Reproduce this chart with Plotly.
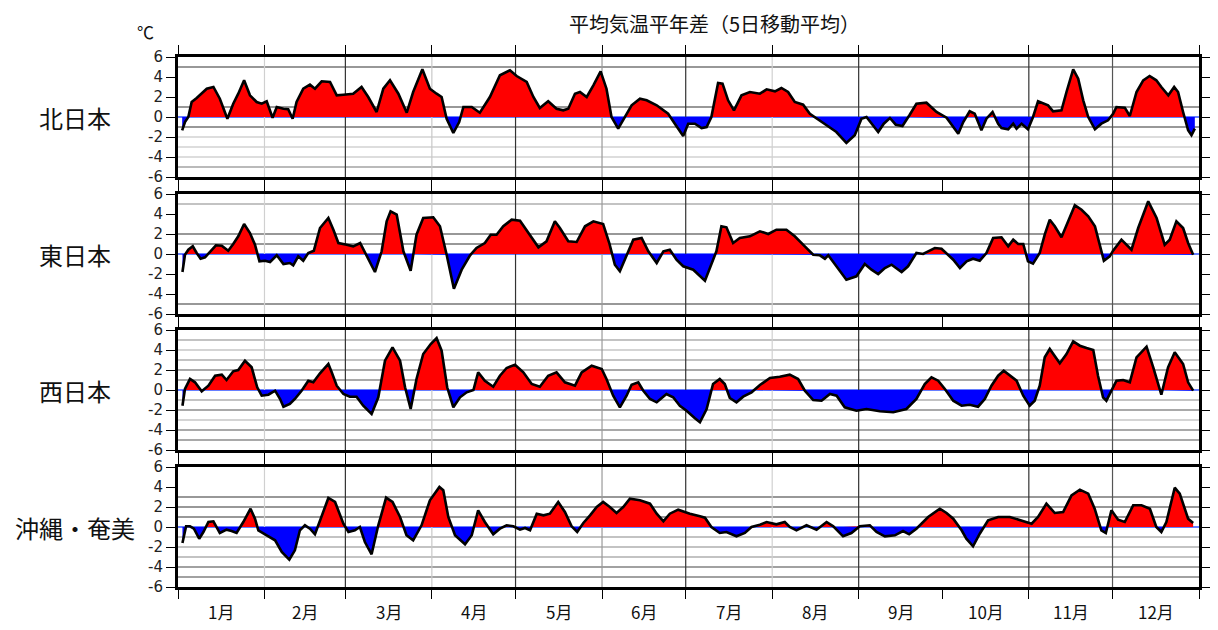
import plotly.graph_objects as go

# ---------------- data ----------------
TITLE = "平均気温平年差（5日移動平均）"
UNIT = "℃"
REGIONS = ["北日本", "東日本", "西日本", "沖縄・奄美"]
MONTH_LABELS = ["1月", "2月", "3月", "4月", "5月", "6月",
                "7月", "8月", "9月", "10月", "11月", "12月"]
MONTH_START = [0, 31, 60, 91, 121, 152, 182, 213, 244, 274, 305, 335, 366]
Y_TICKS = [-6, -4, -2, 0, 2, 4, 6]

# 北日本
north_days = [1.5, 2.5, 3.7, 4.9, 6.7, 8.5, 10.3, 12.7, 15, 17.7,
              19.8, 21.6, 23.7, 25.8, 28.2, 30, 31.8, 33.9, 35.4, 37.8,
              39.5, 41.1, 42.5, 44.9, 47.3, 49.1, 51.5, 54.5, 56.9, 59.3,
              62.8, 65.8, 68.2, 71.2, 73.6, 76, 79, 82, 84.3, 87.6,
              90.3, 92.7, 94.5, 96.3, 98.7, 100.8, 102.3, 105.3, 108.2, 111.8,
              115.4, 119, 121.4, 125, 127.4, 129.7, 132.7, 135.7, 138.1, 139.9,
              142.3, 144.1, 146.5, 148.9, 151.5, 153.6, 155.4, 157.8, 160.2, 162.6,
              165.6, 168, 171.6, 175.7, 178.1, 181.1, 182.9, 185.3, 187.7, 189.5,
              191.2, 193.6, 195.2, 197.2, 199.3, 202, 205, 208.6, 211, 214,
              216.3, 218.7, 221.1, 224.1, 226.5, 228.9, 232.5, 236, 239.6, 242.6,
              245, 246.8, 248.6, 251, 253, 255.2, 257.3, 259.7, 262.3, 264.7,
              268.3, 271.9, 275.5, 277.3, 279.7, 281.5, 283.8, 285.6, 288, 289.8,
              292, 294, 295.2, 297.6, 299.4, 300.6, 302.4, 304.7, 306.5, 308.3,
              310.1, 311.9, 313.7, 316.7, 318.5, 320.9, 322.7, 324.5, 326.3, 328.7,
              331.0, 333.4, 335.2, 336.4, 339.4, 341.2, 343.6, 346, 348.3, 350.7,
              352.5, 355, 357.1, 358.5, 360.3, 362.1, 363.3, 364.5]
north_vals = [-1.33, -0.5, 0, 1.5, 1.9, 2.33, 2.83, 3.0, 1.83, -0.17,
              1.33, 2.33, 3.67, 2.17, 1.5, 1.33, 1.57, -0.07, 1.0, 0.83,
              0.77, -0.17, 1.5, 2.83, 3.23, 2.83, 3.57, 3.5, 2.17, 2.23,
              2.33, 3.0, 2.0, 0.5, 2.83, 3.67, 2.33, 0.43, 2.5, 4.77,
              2.83, 2.33, 2.0, -0.17, -1.6, -0.5, 1.0, 1.0, 0.43, 2.0,
              4.17, 4.67, 4.1, 3.5, 2.0, 0.9, 1.57, 0.83, 0.67, 0.83,
              2.33, 2.5, 2.0, 3.17, 4.57, 2.83, 0, -1.17, 0, 1.17,
              1.83, 1.67, 1.17, 0.33, -0.67, -1.9, -0.67, -0.67, -1.1, -1.0,
              0, 3.4, 3.33, 1.67, 0.67, 2.17, 2.5, 2.33, 2.77, 2.57,
              2.9, 2.5, 1.5, 1.23, 0.33, -0.17, -0.83, -1.5, -2.6, -1.83,
              -0.17, 0, -0.67, -1.5, -0.67, -0.1, -0.77, -0.9, 0.23, 1.33,
              1.43, 0.5, -0.07, -0.77, -1.67, -0.5, 0.57, 0.33, -1.33, -0.17,
              0.5, -0.67, -1.1, -1.23, -0.67, -1.17, -0.67, -1.23, 0, 1.57,
              1.33, 1.17, 0.57, 0.67, 2.5, 4.77, 3.83, 1.67, 0, -1.23,
              -0.67, -0.33, 0.33, 1.0, 0.93, 0.1, 2.5, 3.67, 4.1, 3.67,
              3.0, 2.17, 3.0, 2.5, 0.5, -1.33, -1.83, -1.17]

# 東日本
east_days = [1.6, 2.5, 3.7, 5.3, 6.7, 8.1, 9.7, 11.5, 13.6, 15.7,
             18, 19.8, 21.6, 23.7, 25.8, 27.6, 29.2, 31.2, 33, 35.4,
             37.8, 40.1, 41.3, 43.1, 44.9, 46.7, 48.7, 50.9, 53.9, 55.7,
             57.5, 60.5, 62.8, 65.3, 67.6, 70.6, 73, 74.8, 76.2, 78.4,
             80.8, 83.4, 85.5, 87.9, 91.5, 93.9, 96.3, 98.9, 101.7, 104.7,
             107, 110, 112.1, 114.2, 116.6, 119.6, 122.6, 125.6, 129.2, 132.1,
             135.1, 136.9, 139.9, 142.9, 145.9, 148.9, 152.4, 154.6, 156.6, 158.4,
             160.8, 163.2, 166.2, 168.6, 171.6, 174, 176.3, 178.7, 181.1, 184.7,
             188.9, 191.2, 193.0, 194.8, 196.6, 199, 201.4, 205, 208.6, 211.6,
             214.5, 218.1, 221.1, 224.7, 227.7, 230.1, 231.9, 233.1, 236.1, 239.6,
             243.2, 246.2, 248.6, 251, 253.4, 255.8, 259.4, 261.7, 264.7, 267.1,
             268.9, 271.3, 273.7, 275.5, 277.9, 280.3, 282.7, 285, 287.4, 289.8,
             292.2, 295.2, 297.6, 299.4, 301.2, 303, 304.7, 306.5, 308.9, 310.7,
             312.5, 314.3, 316.7, 319.1, 321.5, 323.9, 326.3, 328.7, 330.4, 331.9,
             334, 335.2, 338.2, 340, 341.8, 344.2, 347.8, 350.8, 353.7, 355.5,
             357.9, 360.3, 362.1, 363.9]
east_vals = [-1.8, -0.07, 0.43, 0.77, 0.1, -0.47, -0.33, 0.27, 0.87, 0.83,
             0.33, 1.0, 1.77, 3.0, 2.1, 0.93, -0.73, -0.67, -0.8, -0.13,
             -1.0, -0.9, -1.13, -0.23, -0.67, 0.1, 0.33, 2.6, 3.6, 2.43,
             1.1, 0.93, 0.77, 1.1, -0.23, -1.8, 0.27, 3.27, 4.27, 3.93,
             0.27, -1.67, 1.93, 3.6, 3.67, 2.77, -0.07, -3.47, -1.57, -0.13,
             0.6, 1.1, 1.93, 1.93, 2.77, 3.43, 3.33, 2.1, 0.67, 1.27,
             3.27, 2.6, 1.27, 1.2, 2.77, 3.27, 3.0, 1.1, -1.07, -1.73,
             -0.07, 1.43, 1.6, 0.27, -0.9, 0.27, 0.43, -0.57, -1.23, -1.57,
             -2.67, -0.9, 0.27, 2.77, 2.67, 1.1, 1.6, 1.77, 2.27, 2.0,
             2.43, 2.43, 1.77, 0.77, -0.07, -0.13, -0.47, -0.13, -1.23, -2.57,
             -2.23, -1.0, -1.57, -2.0, -1.4, -1.07, -1.8, -1.23, 0.1, 0,
             0.27, 0.6, 0.53, 0.1, -0.57, -1.4, -0.73, -0.47, -0.67, 0.1,
             1.6, 1.67, 0.77, 1.43, 1.0, 1.0, -0.73, -0.97, 0.1, 1.93,
             3.43, 2.77, 1.67, 3.27, 4.87, 4.43, 3.77, 2.77, 0.77, -0.67,
             -0.23, 0.33, 1.43, 0.93, 0.43, 2.6, 5.27, 3.6, 0.93, 1.43,
             3.27, 2.6, 1.1, -0.07]

# 西日本
west_days = [1.6, 2.5, 4.3, 6.1, 8.5, 10.9, 13.3, 15.7, 17.4, 19.8,
             21.6, 24, 26.4, 28.4, 30, 32.4, 34.8, 36.6, 37.8, 40.1,
             41.9, 44.3, 46.7, 48.5, 50.9, 53.9, 55.1, 56.9, 59.3, 61.6,
             64, 66.4, 69.4, 71.8, 74.2, 76.9, 79.6, 81.4, 83.4, 85.5,
             87.9, 90.6, 92.7, 94.5, 96.5, 98.7, 101.1, 103.5, 105.9, 107.6,
             110, 113, 115.4, 117.8, 120.8, 123.8, 126.8, 129.7, 132.7, 135.7,
             138.7, 142.3, 144.7, 148.3, 151.9, 153.6, 156, 158.4, 160.8, 162.6,
             165, 166.8, 169.2, 171.6, 175.1, 177.5, 179.9, 182.3, 185.3, 187.1,
             189.5, 191.8, 194.2, 196, 197.8, 200.2, 202.6, 205.6, 208.6, 212.2,
             215.7, 219.3, 222.3, 224.7, 227.7, 230.7, 233.7, 236.1, 239, 243.2,
             246.8, 251.6, 256.4, 261.1, 264.7, 267.7, 270.1, 272.5, 274.9, 277.9,
             280.9, 283.8, 286.8, 289.2, 291.6, 294, 296, 298.2, 300.6, 303,
             305.3, 307.1, 308.9, 310.7, 312.5, 316.1, 318.5, 320.9, 323.3, 325.7,
             328.1, 329.8, 331.6, 332.8, 334.6, 336.4, 338.8, 341.2, 343.6, 347.2,
             349.6, 352.5, 354.9, 357.3, 360.3, 362.1, 363.9]
west_vals = [-1.57, 0.1, 1.1, 0.77, -0.13, 0.43, 1.43, 1.53, 1.0, 1.87,
             2.0, 2.93, 2.27, 0.27, -0.57, -0.47, -0.07, -0.9, -1.67, -1.4,
             -0.9, -0.07, 0.93, 0.77, 1.67, 2.6, 1.77, 0.43, -0.4, -0.67,
             -0.67, -1.57, -2.4, -0.73, 2.93, 4.27, 2.93, 0.27, -1.9, 1.1,
             3.6, 4.6, 5.2, 3.93, 0.27, -1.73, -0.73, -0.23, 0, 1.77,
             0.93, 0.33, 1.43, 2.2, 2.53, 1.77, 0.6, 0.33, 1.43, 1.77,
             0.77, 0.43, 1.77, 2.43, 2.1, 1.1, -0.57, -1.73, -0.57, 0.53,
             0.77, -0.07, -0.9, -1.23, -0.4, -0.73, -1.57, -2.07, -2.83, -3.23,
             -1.9, 0.6, 1.1, 0.6, -0.8, -1.23, -0.67, -0.23, 0.5, 1.2,
             1.33, 1.53, 1.1, -0.07, -1.0, -1.07, -0.4, -0.57, -1.73, -2.07,
             -1.9, -2.13, -2.23, -1.9, -0.9, 0.6, 1.27, 0.93, 0.1, -1.07,
             -1.57, -1.47, -1.67, -0.9, 0.43, 1.43, 1.93, 1.43, 0.93, -0.57,
             -1.57, -1.07, 0.43, 3.27, 4.1, 2.67, 3.6, 4.87, 4.43, 4.2,
             4.0, 1.43, -0.73, -1.07, -0.07, 0.93, 1.0, 0.77, 3.27, 4.33,
             2.27, -0.47, 2.27, 3.77, 2.6, 0.77, -0.07]

# 沖縄・奄美
okinawa_days = [1.6, 2.9, 4.3, 5.7, 7.6, 9.1, 10.9, 12.7, 15, 17.4,
                19.2, 21, 23.4, 26, 27.6, 28.8, 31.8, 34.8, 37.2, 39.9,
                41.9, 43.7, 45.5, 47.3, 49.1, 50.9, 53.9, 56.3, 59.3, 61.1,
                63.4, 65.2, 67, 69.4, 71.8, 74.6, 76.9, 79.6, 81.9, 84.3,
                87.3, 90.3, 93.7, 95.1, 96.9, 99.3, 102.9, 105.3, 107.6, 110,
                113, 115.4, 117.8, 120.2, 122.6, 124.4, 126.2, 128.6, 131, 133.3,
                136.3, 138.7, 141.1, 143.1, 145.3, 147.7, 150.1, 152.4, 154.8, 157.2,
                159.6, 162, 165.6, 169.2, 171.6, 174, 176.3, 179.3, 183.5, 187.1,
                188.9, 191.2, 194.2, 196.6, 200.2, 203.2, 205.6, 208.6, 211, 214.5,
                217.5, 219.3, 221.7, 225.3, 228.9, 232.5, 234.9, 238.4, 241.4, 244.4,
                248, 250.4, 253.4, 257, 259.9, 262.1, 264.7, 268.9, 273.1, 275.5,
                277.9, 280.9, 282.6, 285, 287.4, 290.4, 294, 298.2, 301.8, 306,
                308.3, 311.3, 314.3, 317.3, 320.3, 323.3, 326.3, 328.6, 331, 332.6,
                334.6, 337, 339.4, 342.4, 345.4, 348.4, 350.7, 352.5, 354.3, 357.3,
                359.1, 362.1, 363.9]
okinawa_vals = [-1.6, 0.07, 0.07, -0.17, -1.17, -0.5, 0.5, 0.57, -0.6, -0.27,
                -0.4, -0.6, 0.5, 1.83, 0.83, -0.33, -0.83, -1.33, -2.5, -3.27,
                -2.33, -0.33, 0.17, -0.17, -0.73, 0.67, 2.9, 2.5, 0.33, -0.5,
                -0.33, 0, -1.5, -2.73, 0.17, 2.93, 2.5, 1.0, -0.83, -1.33,
                0.17, 2.67, 4.0, 3.67, 1.0, -0.83, -1.73, -0.83, 1.67, 0.5,
                -0.73, -0.17, 0.17, 0.07, -0.27, -0.1, -0.33, 1.33, 1.17, 1.33,
                2.5, 1.5, 0.07, -0.5, 0.4, 1.17, 2.0, 2.5, 2.0, 1.4,
                2.0, 2.83, 2.67, 2.33, 1.33, 0.57, 1.33, 1.73, 1.33, 1.07,
                0.93, 0, -0.6, -0.5, -0.93, -0.6, 0, 0.23, 0.5, 0.27,
                0.5, 0, -0.33, 0.17, -0.27, 0.5, 0.07, -0.93, -0.6, 0.07,
                0.17, -0.5, -0.93, -0.83, -0.4, -0.73, -0.17, 1.0, 1.83, 1.4,
                0.83, -0.33, -1.17, -1.93, -0.67, 0.67, 1.0, 1.0, 0.67, 0.33,
                1.0, 2.33, 1.4, 1.5, 3.17, 3.73, 3.33, 1.83, -0.33, -0.6,
                1.67, 0.73, 0.5, 2.17, 2.17, 1.83, 0, -0.5, 0.5, 3.93,
                3.33, 0.83, 0.4]

SERIES_DAYS = [north_days, east_days, west_days, okinawa_days]
SERIES_VALS = [north_vals, east_vals, west_vals, okinawa_vals]

# horizontal reference lines drawn in each panel (value, colour)
GRID_LINES = [
    [(5, "#333333"), (1, "#333333"), (-1, "#333333"), (-2, "#bbbbbb"),
     (-3, "#bbbbbb"), (-4, "#bbbbbb"), (-5, "#777777")],
    [(5, "#888888"), (2, "#333333"), (1, "#333333"), (-5, "#333333")],
    [(5, "#888888"), (4, "#aaaaaa"), (3, "#888888"), (2, "#555555"), (1, "#555555"),
     (-1, "#888888"), (-2, "#555555"), (-3, "#aaaaaa"), (-4, "#555555"), (-5, "#555555")],
    [(3, "#333333"), (2, "#333333"), (1, "#333333"), (-1, "#888888"),
     (-2, "#888888"), (-3, "#888888"), (-4, "#444444"), (-5, "#444444")],
]
# vertical month-boundary line colours (Feb .. Dec), None = not drawn
MONTH_LINE_COLORS = ["#d0d0d0", "#333333", "#c8c8c8", "#333333", "#999999",
                     "#333333", "#d0d0d0", "#333333", None, "#333333", "#555555"]

# ---------------- layout geometry ----------------
# the page body adds an 8 px offset, so figure coordinates = screen - 8
OFF = 8
W, H = 1218 - 2 * OFF, 630 - OFF - 2
ML, MT = 178 - OFF, 57 - OFF
MR = W - (1199 - OFF)
MB = H - (587 - OFF)
PH = H - MT - MB
PW = W - ML - MR
PANEL_PX = [(57, 177), (194, 314), (330, 450), (467, 587)]   # screen y of +6 / -6


def ydom(top, bot):
    return [(587 - bot) / PH, (587 - top) / PH]


def px_x(sx):
    return (sx - 178) / PW


def px_y(sy):
    return (587 - sy) / PH


def split_fill(days, vals):
    xs, ys = [], []
    for i, (d, v) in enumerate(zip(days, vals)):
        if i > 0:
            v0, d0 = vals[i - 1], days[i - 1]
            if (v0 < 0 < v) or (v0 > 0 > v):
                xs.append(d0 + (d - d0) * v0 / (v0 - v))
                ys.append(0.0)
        xs.append(d)
        ys.append(v)
    return xs, [max(y, 0) for y in ys], [min(y, 0) for y in ys]


fig = go.Figure()
shapes = []
annotations = []
FONT_JP = "Noto Sans CJK JP"
FONT_NUM = "DejaVu Sans"

for i in range(4):
    n = "" if i == 0 else str(i + 1)
    xr, yr = "x" + n, "y" + n
    days, vals = SERIES_DAYS[i], SERIES_VALS[i]
    xs, pos, neg = split_fill(days, vals)

    fig.add_trace(go.Scatter(x=xs, y=pos, fill="tozeroy", fillcolor="#ff0000",
                             mode="lines", line=dict(width=0, color="#ff0000"),
                             xaxis=xr, yaxis=yr, hoverinfo="skip", showlegend=False))
    fig.add_trace(go.Scatter(x=xs, y=neg, fill="tozeroy", fillcolor="#0000ff",
                             mode="lines", line=dict(width=0, color="#0000ff"),
                             xaxis=xr, yaxis=yr, hoverinfo="skip", showlegend=False))
    fig.add_trace(go.Scatter(x=days, y=vals, mode="lines",
                             line=dict(color="black", width=2.6),
                             xaxis=xr, yaxis=yr, showlegend=False,
                             name=REGIONS[i]))

    for val, col in GRID_LINES[i]:
        shapes.append(dict(type="line", xref=xr + " domain", yref=yr, x0=0, x1=1,
                           y0=val, y1=val, layer="below",
                           line=dict(color=col, width=1.2)))
    shapes.append(dict(type="line", xref=xr + " domain", yref=yr, x0=0, x1=1,
                       y0=0, y1=0, layer="below", line=dict(color="#3355ff", width=1.5)))
    for m, col in zip(MONTH_START[1:12], MONTH_LINE_COLORS):
        if col is None:
            continue
        shapes.append(dict(type="line", xref=xr, yref=yr + " domain", x0=m, x1=m,
                           y0=0, y1=1, layer="below", line=dict(color=col, width=1.2)))

    top, bot = PANEL_PX[i]
    fig.layout["xaxis" + n] = dict(
        domain=[0, 1], range=[0, MONTH_START[-1]], anchor=yr,
        tickvals=MONTH_START, showticklabels=False, ticks="outside",
        ticklen=9, tickwidth=1.3, tickcolor="black",
        showline=True, linewidth=3, linecolor="black", mirror="allticks",
        showgrid=False, zeroline=False, fixedrange=True, automargin=False)
    fig.layout["yaxis" + n] = dict(
        domain=ydom(top, bot), range=[-6, 6], anchor=xr,
        tickvals=Y_TICKS, ticktext=[str(t) for t in Y_TICKS],
        ticks="outside", ticklen=9, tickwidth=1.3, tickcolor="black",
        tickfont=dict(family=FONT_NUM, size=15, color="#222222"),
        showline=True, linewidth=3, linecolor="black", mirror="allticks",
        showgrid=False, zeroline=False, fixedrange=True, automargin=False)

    annotations.append(dict(text=REGIONS[i], xref="paper", yref=yr, x=px_x(75),
                            y=0, showarrow=False, xanchor="center", yanchor="middle",
                            font=dict(family=FONT_JP, size=24, color="#111111")))

for m, lab in enumerate(MONTH_LABELS):
    mid = (MONTH_START[m] + MONTH_START[m + 1]) / 2
    annotations.append(dict(text=lab, xref="x4", yref="paper", x=mid, y=px_y(611),
                            showarrow=False, xanchor="center", yanchor="middle",
                            font=dict(family=FONT_JP, size=17, color="#111111")))

annotations.append(dict(text=TITLE, xref="paper", yref="paper",
                        x=px_x(714), y=px_y(23),
                        showarrow=False, xanchor="center", yanchor="middle",
                        font=dict(family=FONT_JP, size=20, color="#111111")))
annotations.append(dict(text=UNIT, xref="paper", yref="paper",
                        x=px_x(145), y=px_y(31),
                        showarrow=False, xanchor="center", yanchor="middle",
                        font=dict(family=FONT_JP, size=17, color="#111111")))

fig.update_layout(width=W, height=H, margin=dict(l=ML, r=MR, t=MT, b=MB),
                  paper_bgcolor="white", plot_bgcolor="white",
                  shapes=shapes, annotations=annotations, showlegend=False)

fig.write_html("out.html")
